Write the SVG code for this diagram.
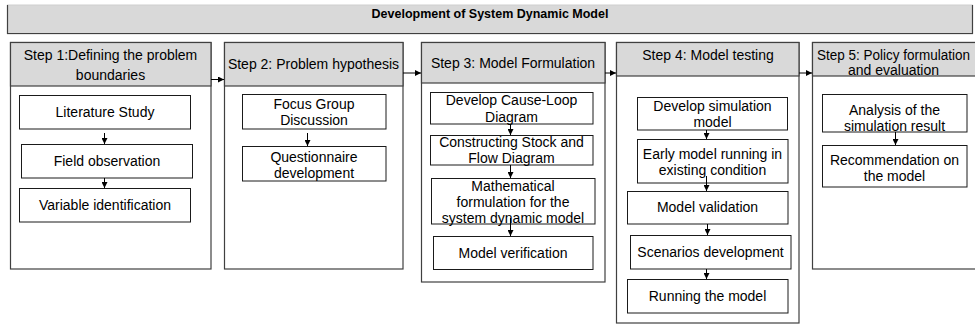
<svg xmlns="http://www.w3.org/2000/svg" width="975" height="325" viewBox="0 0 975 325">
  <defs>
    <marker id="arrow" viewBox="0 0 6 6" refX="6" refY="3" markerWidth="6" markerHeight="6" markerUnits="userSpaceOnUse" orient="auto">
      <path d="M0,0 L6,3 L0,6 Z" fill="#000"/>
    </marker>
    <style>
      text { font-family: "Liberation Sans", Arial, sans-serif; font-size: 14px; fill: #000; text-anchor: middle; }
      .title { font-weight: bold; font-size: 12.5px; }
      .panel { fill: #fff; stroke: #404040; stroke-width: 1.2; }
      .head { fill: #d9d9d9; stroke: #404040; stroke-width: 1.2; }
      .box { fill: #fff; stroke: #1a1a1a; stroke-width: 1; }
      .conn { stroke: #000; stroke-width: 1; fill: none; marker-end: url(#arrow); }
    </style>
  </defs>
  <rect width="975" height="325" fill="#fff"/>

  <!-- title banner -->
  <g id="banner">
    <rect x="7.5" y="5" width="965" height="29" fill="#d9d9d9" stroke="#d0d0d0" stroke-width="1"/>
    <path d="M7.5,5 V33.5 H972.5 V5" fill="none" stroke="#404040" stroke-width="1.2"/>
    <text class="title" x="490" y="18">Development of System Dynamic Model</text>
  </g>

  <!-- Step 1 -->
  <g id="step1">
    <rect class="panel" x="10.5" y="42.5" width="200.5" height="226.5"/>
    <rect class="head" x="10.5" y="42.5" width="200.5" height="43.5"/>
    <text x="110.5" y="60">Step 1:Defining the problem</text>
    <text x="110.5" y="80">boundaries</text>
  </g>
  <g id="literature-study">
    <rect class="box" x="19.5" y="95.5" width="171" height="33.5"/>
    <text x="105" y="117">Literature Study</text>
  </g>
  <g id="field-observation">
    <rect class="box" x="21.5" y="144.5" width="171" height="33.5"/>
    <text x="107" y="166">Field observation</text>
  </g>
  <g id="variable-identification">
    <rect class="box" x="19.5" y="188.5" width="171" height="33.5"/>
    <text x="105" y="210">Variable identification</text>
  </g>

  <!-- Step 2 -->
  <g id="step2">
    <rect class="panel" x="224.5" y="42.5" width="178.5" height="226.5"/>
    <rect class="head" x="224.5" y="42.5" width="178.5" height="43.5"/>
    <text x="313.5" y="69">Step 2: Problem hypothesis</text>
  </g>
  <g id="focus-group">
    <rect class="box" x="242.5" y="94.5" width="143.5" height="34.5"/>
    <text x="314" y="109">Focus Group</text>
    <text x="314" y="125">Discussion</text>
  </g>
  <g id="questionnaire">
    <rect class="box" x="242.5" y="146.5" width="143.5" height="34.5"/>
    <text x="314" y="162">Questionnaire</text>
    <text x="314" y="178">development</text>
  </g>

  <!-- Step 3 -->
  <g id="step3">
    <rect class="panel" x="421.5" y="42.5" width="183.5" height="239.5"/>
    <rect class="head" x="421.5" y="42.5" width="183.5" height="40.5"/>
    <text x="513" y="68">Step 3: Model Formulation</text>
  </g>
  <g id="cause-loop">
    <rect class="box" x="430.5" y="92.5" width="162.5" height="31.5"/>
    <text x="511.5" y="105">Develop Cause-Loop</text>
    <text x="511.5" y="122">Diagram</text>
  </g>
  <g id="stock-flow">
    <rect class="box" x="430.5" y="135.5" width="162.5" height="29.5"/>
    <text x="511.5" y="147">Constructing Stock and</text>
    <text x="511.5" y="163">Flow Diagram</text>
  </g>
  <g id="mathematical-formulation">
    <rect class="box" x="431.5" y="178.5" width="163.5" height="45.5"/>
    <text x="513" y="191">Mathematical</text>
    <text x="513" y="207">formulation for the</text>
    <text x="513" y="223">system dynamic model</text>
  </g>
  <g id="model-verification">
    <rect class="box" x="433.5" y="236.5" width="159.5" height="33"/>
    <text x="513" y="258">Model verification</text>
  </g>

  <!-- Step 4 -->
  <g id="step4">
    <rect class="panel" x="616.5" y="42.5" width="182.5" height="280.5"/>
    <rect class="head" x="616.5" y="42.5" width="182.5" height="33.5"/>
    <text x="708" y="60">Step 4: Model testing</text>
  </g>
  <g id="simulation-model">
    <rect class="box" x="637.5" y="97.5" width="150" height="32.5"/>
    <text x="712.5" y="111">Develop simulation</text>
    <text x="712.5" y="127">model</text>
  </g>
  <g id="early-running">
    <rect class="box" x="637.5" y="139.5" width="150.5" height="43.5"/>
    <text x="712.5" y="159">Early model running in</text>
    <text x="712.5" y="175">existing condition</text>
  </g>
  <g id="model-validation">
    <rect class="box" x="627.5" y="191.5" width="160.5" height="32.5"/>
    <text x="707.5" y="212">Model validation</text>
  </g>
  <g id="scenarios">
    <rect class="box" x="630.5" y="235.5" width="160.5" height="33.5"/>
    <text x="710.5" y="257">Scenarios development</text>
  </g>
  <g id="running-model">
    <rect class="box" x="627.5" y="279.5" width="160.5" height="33.5"/>
    <text x="707.5" y="301">Running the model</text>
  </g>

  <!-- Step 5 -->
  <g id="step5">
    <rect class="panel" x="812.5" y="42.5" width="170" height="226.5"/>
    <rect class="head" x="812.5" y="42.5" width="170" height="33.5"/>
    <text x="893.5" y="60" textLength="153" lengthAdjust="spacingAndGlyphs">Step 5: Policy formulation</text>
    <text x="893.5" y="75">and evaluation</text>
  </g>
  <g id="analysis">
    <rect class="box" x="822.5" y="94.5" width="144.5" height="37.5"/>
    <text x="894.5" y="115">Analysis of the</text>
    <text x="894.5" y="131">simulation result</text>
  </g>
  <g id="recommendation">
    <rect class="box" x="822.5" y="145.5" width="144.5" height="41.5"/>
    <text x="894.5" y="165">Recommendation on</text>
    <text x="894.5" y="181">the model</text>
  </g>

  <!-- connectors -->
  <g id="connectors">
    <line class="conn" x1="211" y1="79.5" x2="224" y2="79.5"/>
    <line class="conn" x1="403" y1="73" x2="421" y2="73"/>
    <line class="conn" x1="605" y1="73" x2="616" y2="73"/>
    <line class="conn" x1="799" y1="73" x2="812" y2="73"/>

    <line class="conn" x1="104.5" y1="133" x2="104.5" y2="144"/>
    <line class="conn" x1="104.5" y1="178" x2="104.5" y2="188"/>

    <line class="conn" x1="307.5" y1="133" x2="307.5" y2="146"/>

    <line class="conn" x1="510.5" y1="124" x2="510.5" y2="135"/>
    <line class="conn" x1="510.5" y1="165" x2="510.5" y2="178"/>
    <line class="conn" x1="510.5" y1="218" x2="510.5" y2="236"/>

    <line class="conn" x1="706.5" y1="130" x2="706.5" y2="139"/>
    <line class="conn" x1="706.5" y1="176" x2="706.5" y2="191"/>
    <line class="conn" x1="707.5" y1="224" x2="707.5" y2="235"/>
    <line class="conn" x1="706.5" y1="269" x2="706.5" y2="279"/>

    <line class="conn" x1="895.5" y1="132" x2="895.5" y2="145"/>
  </g>
</svg>
